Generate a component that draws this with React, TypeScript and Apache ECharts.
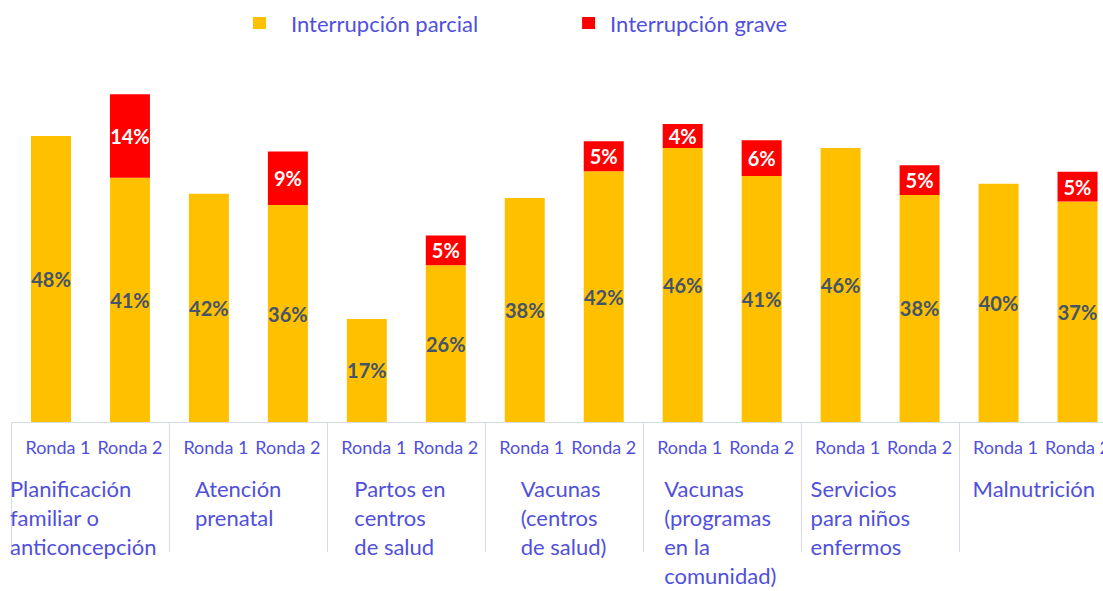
import React, { useEffect, useRef } from "react";
import * as echarts from "echarts";

// ---- Data ----
const groups = [
  "Planificación\nfamiliar o\nanticoncepción",
  "Atención\nprenatal",
  "Partos en\ncentros\nde salud",
  "Vacunas\n(centros\nde salud)",
  "Vacunas\n(programas\nen la\ncomunidad)",
  "Servicios\npara niños\nenfermos",
  "Malnutrición",
];
const rounds = ["Ronda 1", "Ronda 2"];
const seriesNames = ["Interrupción parcial", "Interrupción grave"];
// bar heights (percent)
const partialValues = [48, 41, 38.3, 36.4, 17.3, 26.3, 37.6, 42.1, 46, 41.3, 46, 38.1, 40, 37];
// printed labels (percent)
const partialLabels = [48, 41, 42, 36, 17, 26, 38, 42, 46, 41, 46, 38, 40, 37];
const graveValues = [null, 14, null, 9, null, 5, null, 5, 4, 6, null, 5, null, 5];

// ---- Style ----
const FONT = "Lato";
const TEXT_BLUE = "#5050DC";
const AXIS_GRAY = "#D6DCE5";
const groupLabelWidths = [161, 107, 104, 87, 116, 139, 131];

const barCategories = groups.flatMap((_, gi) => rounds.map((_, ri) => `g${gi}r${ri}`));

export default function App() {
  const ref = useRef<HTMLDivElement>(null);

  useEffect(() => {
    if (!ref.current) return;
    const chart = echarts.init(ref.current, null, { renderer: "svg" });

    const groupRich: Record<string, any> = {};
    groupLabelWidths.forEach((w, i) => {
      groupRich["g" + i] = {
        width: w,
        align: "left",
        fontSize: 22,
        lineHeight: 29,
        color: TEXT_BLUE,
        fontFamily: FONT,
      };
    });

    const legendText = { fontSize: 22, color: TEXT_BLUE, fontFamily: FONT };

    chart.setOption({
      animation: false,
      backgroundColor: "#ffffff",
      textStyle: { fontFamily: FONT },
      legend: {
        data: [
          { name: seriesNames[0], textStyle: { ...legendText, padding: [0, 0, 0, 20] } },
          { name: seriesNames[1], textStyle: { ...legendText, padding: [0, 0, 0, 10] } },
        ],
        left: 248,
        top: 7,
        icon: "rect",
        itemWidth: 13,
        itemHeight: 12,
        itemGap: 104,
        textStyle: legendText,
      },
      grid: {
        left: 11.5,
        width: 1105.5,
        top: 64.5,
        bottom: 169,
        containLabel: false,
      },
      xAxis: [
        {
          type: "category",
          position: "bottom",
          data: barCategories,
          axisLine: { show: true, lineStyle: { color: AXIS_GRAY, width: 1 } },
          axisTick: { show: false },
          axisLabel: {
            interval: 0,
            margin: 15,
            fontSize: 18,
            lineHeight: 20,
            color: TEXT_BLUE,
            fontFamily: FONT,
            formatter: (_v: string, idx: number) =>
              idx % 2 === 0 ? `{r1|${rounds[0]}}` : `{r2|${rounds[1]}}`,
            rich: {
              r1: { padding: [0, 0, 0, 14], fontSize: 18, color: TEXT_BLUE, fontFamily: FONT },
              r2: { fontSize: 18, color: TEXT_BLUE, fontFamily: FONT },
            },
          },
        },
        {
          type: "category",
          position: "bottom",
          data: groups,
          axisLine: { show: false },
          axisTick: {
            show: true,
            length: 130,
            interval: 0,
            lineStyle: { color: AXIS_GRAY, width: 1 },
          },
          axisLabel: {
            interval: 0,
            margin: 52,
            fontSize: 22,
            lineHeight: 29,
            color: TEXT_BLUE,
            fontFamily: FONT,
            formatter: (v: string, idx: number) =>
              v
                .split("\n")
                .map((line) => `{g${idx}|${line}}`)
                .join("\n"),
            rich: groupRich,
          },
        },
      ],
      yAxis: {
        type: "value",
        min: 0,
        max: 60,
        show: false,
        splitLine: { show: false },
      },
      series: [
        {
          name: seriesNames[0],
          type: "bar",
          stack: "total",
          xAxisIndex: 0,
          barWidth: 40,
          data: partialValues,
          itemStyle: { color: "#FFC000" },
          label: {
            show: true,
            position: "inside",
            formatter: (p: any) => `${partialLabels[p.dataIndex]}%`,
            color: "#44546A",
            fontWeight: "bold",
            fontSize: 20,
            fontFamily: FONT,
          },
        },
        {
          name: seriesNames[1],
          type: "bar",
          stack: "total",
          xAxisIndex: 0,
          barWidth: 40,
          data: graveValues,
          itemStyle: { color: "#FF0000" },
          label: {
            show: true,
            position: "inside",
            formatter: (p: any) => `${p.value}%`,
            color: "#FFFFFF",
            fontWeight: "bold",
            fontSize: 20,
            fontFamily: FONT,
          },
        },
      ],
    });

    return () => chart.dispose();
  }, []);

  return (
    <div
      style={{
        position: "absolute",
        left: 0,
        top: 0,
        width: 1103,
        height: 591,
        overflow: "hidden",
        background: "#fff",
      }}
    >
      <div ref={ref} style={{ width: 1125, height: 591 }} />
    </div>
  );
}
